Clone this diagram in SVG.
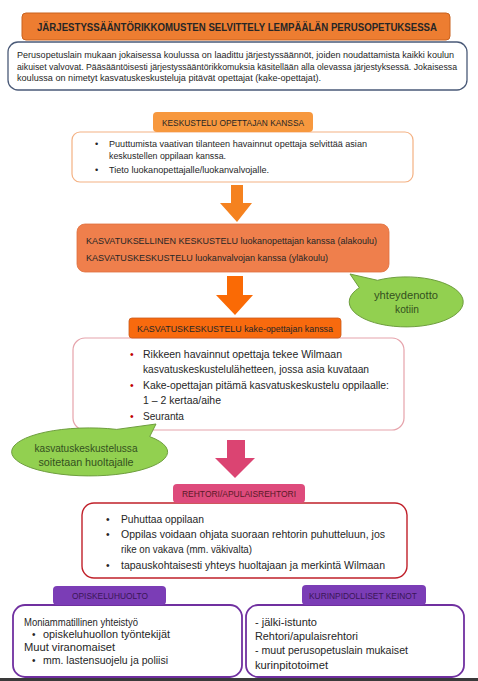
<svg xmlns="http://www.w3.org/2000/svg" width="478" height="681" viewBox="0 0 478 681">
<style>
text{font-family:"Liberation Sans",Arial,sans-serif;fill:#262626}
.t{font-size:9px}
.b1{font-size:9.2px}
.b2{font-size:9.3px}
.b3{font-size:10.5px}
.b4{font-size:10.3px}
.b5{font-size:10px}
.tab{font-size:8.8px;text-anchor:middle}
.bub{font-size:10.2px;text-anchor:middle;fill:#34501f}
.red{fill:#c00000}
</style>
<rect width="478" height="681" fill="#ffffff"/>
<g id="title">
<rect x="22" y="13" width="428" height="27" rx="4" fill="#ed7d31" stroke="#c9621f" stroke-width="1"/>
<text x="237" y="30.5" font-size="10.4" font-weight="bold" text-anchor="middle" textLength="400" lengthAdjust="spacingAndGlyphs">JÄRJESTYSSÄÄNTÖRIKKOMUSTEN SELVITTELY LEMPÄÄLÄN PERUSOPETUKSESSA</text>
</g>
<g id="intro">
<rect x="8" y="42" width="459" height="48" rx="10" fill="#fff" stroke="#4a5a78" stroke-width="1.3"/>
<text class="t" x="17" y="58" textLength="437" lengthAdjust="spacingAndGlyphs">Perusopetuslain mukaan jokaisessa koulussa on laadittu järjestyssäännöt, joiden noudattamista kaikki koulun</text>
<text class="t" x="17" y="69.5" textLength="440" lengthAdjust="spacingAndGlyphs">aikuiset valvovat. Pääsääntöisesti järjestyssääntörikkomuksia käsitellään alla olevassa järjestyksessä.  Jokaisessa</text>
<text class="t" x="17" y="81" textLength="304" lengthAdjust="spacingAndGlyphs">koulussa on nimetyt kasvatuskeskusteluja pitävät opettajat (kake-opettajat).</text>
</g>
<g id="step1">
<rect x="72" y="132" width="341" height="50" rx="8" fill="#fff" stroke="#f4b183" stroke-width="1.2"/>
<rect x="153" y="112" width="160" height="20" rx="4" fill="#f7983e"/>
<text class="tab" x="233" y="125.5" textLength="142" lengthAdjust="spacingAndGlyphs">KESKUSTELU OPETTAJAN KANSSA</text>
<text class="b1" x="95" y="147">•</text>
<text class="b1" x="109" y="147" textLength="258" lengthAdjust="spacingAndGlyphs">Puuttumista vaativan tilanteen havainnut opettaja selvittää asian</text>
<text class="b1" x="109" y="159" textLength="117" lengthAdjust="spacingAndGlyphs">keskustellen oppilaan kanssa.</text>
<text class="b1" x="95" y="173">•</text>
<text class="b1" x="109" y="173" textLength="160" lengthAdjust="spacingAndGlyphs">Tieto luokanopettajalle/luokanvalvojalle.</text>
</g>
<g id="step2">
<rect x="77" y="224" width="312" height="48" rx="8" fill="#ef7f4c" stroke="#e0703e" stroke-width="0.8"/>
<text class="b2" x="86" y="243.5" textLength="291" lengthAdjust="spacingAndGlyphs">KASVATUKSELLINEN KESKUSTELU luokanopettajan kanssa (alakoulu)</text>
<text class="b2" x="86" y="260.5" textLength="242" lengthAdjust="spacingAndGlyphs">KASVATUSKESKUSTELU luokanvalvojan kanssa (yläkoulu)</text>
</g>
<g id="step3">
<rect x="73" y="338" width="331" height="92" rx="12" fill="#fff" stroke="#e6a3ab" stroke-width="1.2"/>
<rect x="129" y="318" width="212" height="20" rx="3" fill="#f86a0e" stroke="#c95a1c" stroke-width="0.8"/>
<text class="tab" x="235" y="331.5" font-size="9.2" textLength="196" lengthAdjust="spacingAndGlyphs">KASVATUSKESKUSTELU kake-opettajan kanssa</text>
<text class="b3 red" x="130" y="358">•</text>
<text class="b3" x="143" y="358" textLength="199" lengthAdjust="spacingAndGlyphs">Rikkeen havainnut opettaja tekee Wilmaan</text>
<text class="b3" x="143" y="373" textLength="226" lengthAdjust="spacingAndGlyphs">kasvatuskeskustelulähetteen, jossa asia kuvataan</text>
<text class="b3 red" x="130" y="389">•</text>
<text class="b3" x="143" y="389" textLength="246" lengthAdjust="spacingAndGlyphs">Kake-opettajan pitämä kasvatuskeskustelu oppilaalle:</text>
<text class="b3" x="143" y="404" textLength="78" lengthAdjust="spacingAndGlyphs">1 – 2 kertaa/aihe</text>
<text class="b3 red" x="130" y="420">•</text>
<text class="b3" x="143" y="420" textLength="41" lengthAdjust="spacingAndGlyphs">Seuranta</text>
</g>
<g id="bubble-home">
<path d="M377.5,280.3 L350,274 L359.3,287.7 A57 25 0 1 0 377.5,280.3 Z" fill="#92d050" stroke="#6e9e3e" stroke-width="1"/>
<text class="bub" x="406" y="298.5" textLength="64" lengthAdjust="spacingAndGlyphs">yhteydenotto</text>
<text class="bub" x="407" y="312.5">kotiin</text>
</g>
<g id="bubble-guardian">
<path d="M116.7,429.4 L156,424 L149.7,436.6 A78 24 0 1 1 116.7,429.4 Z" fill="#92d050" stroke="#6e9e3e" stroke-width="1"/>
<text class="bub" x="86" y="451.5" textLength="103" lengthAdjust="spacingAndGlyphs">kasvatuskeskustelussa</text>
<text class="bub" x="86" y="465.5" textLength="95" lengthAdjust="spacingAndGlyphs">soitetaan huoltajalle</text>
</g>
<g id="step4">
<rect x="82" y="503" width="325" height="75" rx="12" fill="#fff" stroke="#c0202a" stroke-width="1.4"/>
<rect x="173" y="484" width="132" height="19" rx="4" fill="#de4b7c"/>
<text class="tab" x="239" y="497" style="fill:#5a1a28" textLength="114" lengthAdjust="spacingAndGlyphs">REHTORI/APULAISREHTORI</text>
<text class="b4" x="106" y="523">•</text>
<text class="b4" x="121" y="523" textLength="83" lengthAdjust="spacingAndGlyphs">Puhuttaa oppilaan</text>
<text class="b4" x="106" y="538">•</text>
<text class="b4" x="121" y="538" textLength="264" lengthAdjust="spacingAndGlyphs">Oppilas voidaan ohjata suoraan rehtorin puhutteluun, jos</text>
<text class="b4" x="121" y="553" textLength="131" lengthAdjust="spacingAndGlyphs">rike on vakava (mm. väkivalta)</text>
<text class="b4" x="106" y="569">•</text>
<text class="b4" x="121" y="569" textLength="264" lengthAdjust="spacingAndGlyphs">tapauskohtaisesti yhteys huoltajaan ja merkintä Wilmaan</text>
</g>
<g id="opiskeluhuolto">
<rect x="13" y="605" width="229" height="72" rx="12" fill="#fff" stroke="#7030a0" stroke-width="1.8"/>
<rect x="53" y="586" width="113" height="19" rx="4" fill="#7b3db6"/>
<text class="tab" x="110" y="599" style="fill:#3a1656" textLength="76" lengthAdjust="spacingAndGlyphs">OPISKELUHUOLTO</text>
<text class="b5" x="24" y="625.5" textLength="114" lengthAdjust="spacingAndGlyphs">Moniammatillinen yhteistyö</text>
<text class="b5" x="32" y="638">•</text>
<text class="b5" x="43" y="638" textLength="127" lengthAdjust="spacingAndGlyphs">opiskeluhuollon työntekijät</text>
<text class="b5" x="24" y="651" textLength="91" lengthAdjust="spacingAndGlyphs">Muut viranomaiset</text>
<text class="b5" x="32" y="664">•</text>
<text class="b5" x="43" y="664" textLength="125" lengthAdjust="spacingAndGlyphs">mm. lastensuojelu ja poliisi</text>
</g>
<g id="kurinpito">
<rect x="246" y="605" width="218" height="72" rx="12" fill="#fff" stroke="#7030a0" stroke-width="1.8"/>
<rect x="302" y="585" width="124" height="20" rx="4" fill="#7b3db6"/>
<text class="tab" x="363" y="599" style="fill:#3a1656" textLength="108" lengthAdjust="spacingAndGlyphs">KURINPIDOLLISET KEINOT</text>
<text class="b5" x="255" y="626" textLength="62" lengthAdjust="spacingAndGlyphs">- jälki-istunto</text>
<text class="b5" x="255" y="640" textLength="103" lengthAdjust="spacingAndGlyphs">Rehtori/apulaisrehtori</text>
<text class="b5" x="255" y="654" textLength="153" lengthAdjust="spacingAndGlyphs">- muut perusopetuslain mukaiset</text>
<text class="b5" x="255" y="669" textLength="73" lengthAdjust="spacingAndGlyphs">kurinpitotoimet</text>
</g>
<g id="connectors">
<polygon points="231,185 243,185 243,203 252,203 237,222 220,203 231,203" fill="#f5821f"/>
<polygon points="227,276 243,276 243,295 253,295 235,315 216,295 227,295" fill="#fa6a05"/>
<polygon points="227,440 245,440 245,458 255,458 235,478 215,458 227,458" fill="#db4472"/>
</g>
<rect x="0" y="678" width="478" height="3" fill="#3a3a3a"/>
</svg>
